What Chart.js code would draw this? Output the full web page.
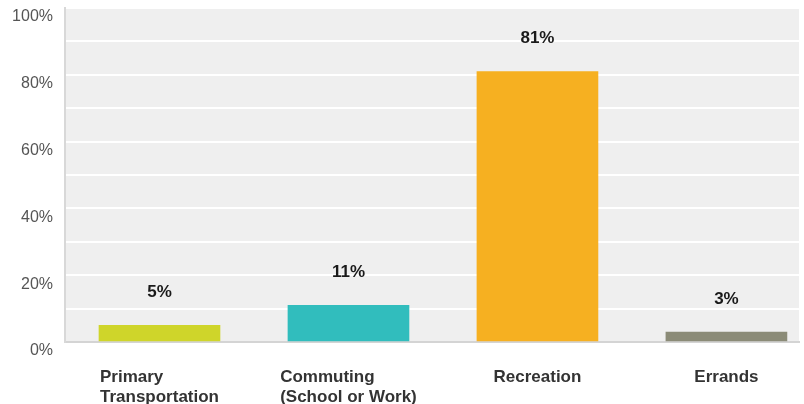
<!DOCTYPE html>
<html>
<head>
<meta charset="utf-8">
<title>Trip purpose</title>
<script src="https://cdn.jsdelivr.net/npm/chart.js@4"></script>
<style>
  html, body { margin: 0; padding: 0; background: #fff; }
  #wrap { width: 804px; height: 404px; }
</style>
</head>
<body>
<div id="wrap"><canvas id="tripChart"></canvas></div>
<script>
// Share of respondents by main trip purpose
const categories = [['Primary', 'Transportation'], ['Commuting', '(School or Work)'], ['Recreation'], ['Errands']];
const shares = [5, 11, 81, 3];
const barColors = ['#cfd52a', '#31bdbd', '#f6b021', '#8b8b77'];
const yTicks = [0, 20, 40, 60, 80, 100];

const FONT = '"Liberation Sans", Arial, sans-serif';

// grey plot background
const plotBackground = {
    id: 'plotBackground',
    beforeDraw(chart) {
        const { ctx, chartArea: a } = chart;
        ctx.save();
        ctx.fillStyle = '#efefef';
        ctx.fillRect(a.left, a.top, a.right - a.left, a.bottom - a.top);
        ctx.restore();
    }
};

// value labels above bars, category labels under the axis
const barLabels = {
    id: 'barLabels',
    afterDatasetsDraw(chart) {
        const { ctx } = chart;
        const meta = chart.getDatasetMeta(0);
        ctx.save();
        ctx.fillStyle = '#1a1a1a';
        ctx.font = 'bold 17px ' + FONT;
        ctx.textAlign = 'center';
        ctx.textBaseline = 'middle';
        meta.data.forEach((bar, i) => {
            ctx.fillText(shares[i] + '%', bar.x, bar.y - 33);
        });

        ctx.fillStyle = '#333';
        ctx.textAlign = 'left';
        const base = chart.chartArea.bottom + 35;
        meta.data.forEach((bar, i) => {
            const lines = categories[i];
            const w = Math.max(...lines.map(l => ctx.measureText(l).width));
            lines.forEach((line, j) => {
                ctx.fillText(line, bar.x - w / 2, base + j * 20);
            });
        });
        ctx.restore();
    }
};

new Chart(document.getElementById('tripChart'), {
    type: 'bar',
    data: {
        datasets: [{
            data: shares.map((v, i) => ({ x: i, y: v })),
            backgroundColor: barColors,
            borderWidth: 0,
            barThickness: 121
        }]
    },
    options: {
        responsive: true,
        maintainAspectRatio: false,
        animation: false,
        layout: { padding: { top: 8, right: 5, left: 0, bottom: 0 } },
        plugins: { legend: { display: false }, tooltip: { enabled: false } },
        scales: {
            x: {
                type: 'linear',
                offset: false,
                min: -0.5,
                max: 3.384,
                grid: { display: false },
                border: { display: true, color: '#d4d4d4', width: 2 },
                ticks: { display: false },
                afterFit(scale) {
                    scale.height = 62;
                    scale.paddingLeft = 0;
                    scale.paddingRight = 0;
                }
            },
            y: {
                min: 0,
                max: 100,
                ticks: {
                    stepSize: 10,
                    padding: 12,
                    labelOffset: 9,
                    color: '#555',
                    font: { family: FONT, size: 16 },
                    callback: v => yTicks.includes(v) ? v + '%' : ''
                },
                grid: { color: '#ffffff', lineWidth: 2, drawTicks: false },
                border: { display: true, color: '#d8d8d8', width: 2 },
                afterFit(scale) {
                    scale.width = 65;
                    scale.paddingTop = 0;
                    scale.paddingBottom = 0;
                }
            }
        }
    },
    plugins: [plotBackground, barLabels]
});
</script>
</body>
</html>
